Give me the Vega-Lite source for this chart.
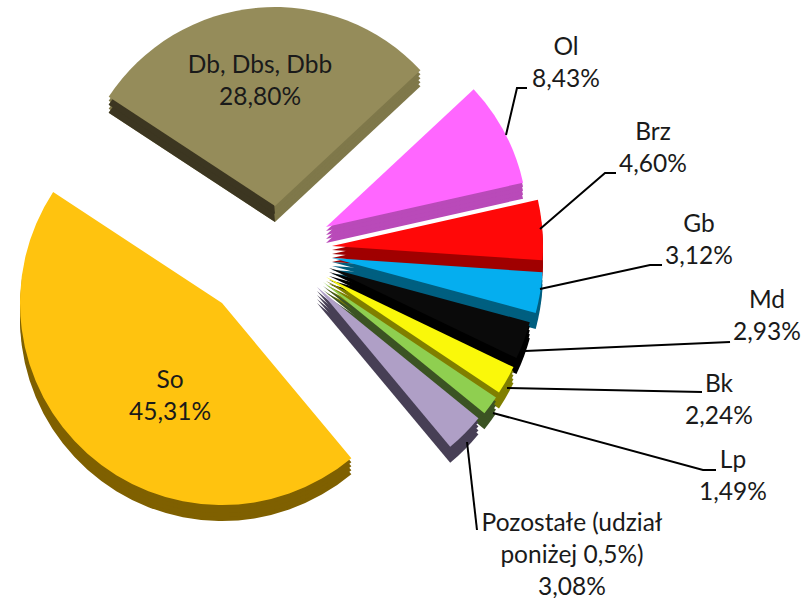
{"$schema":"https://vega.github.io/schema/vega-lite/v6.json","width":803,"height":598,"padding":0,"autosize":{"type":"none"},"background":"white","view":{"stroke":null},
"datasets":{
"shares":[
{"name":"Ol","value":8.43,"rank":1,"label":"Ol\n8,43%"},
{"name":"Brz","value":4.60,"rank":2,"label":"Brz\n4,60%"},
{"name":"Gb","value":3.12,"rank":3,"label":"Gb\n3,12%"},
{"name":"Md","value":2.93,"rank":4,"label":"Md\n2,93%"},
{"name":"Bk","value":2.24,"rank":5,"label":"Bk\n2,24%"},
{"name":"Lp","value":1.49,"rank":6,"label":"Lp\n1,49%"},
{"name":"Pozostałe","value":3.08,"rank":7,"label":"Pozostałe (udział\nponiżej 0,5%)\n3,08%"},
{"name":"So","value":45.31,"rank":8,"label":"So\n45,31%"},
{"name":"Db","value":28.80,"rank":9,"label":"Db, Dbs, Dbb\n28,80%"}],
"leaders":[
{"leader":"Ol","pt":1},{"leader":"Ol","pt":2},{"leader":"Ol","pt":3},
{"leader":"Brz","pt":4},{"leader":"Brz","pt":5},{"leader":"Brz","pt":6},
{"leader":"Gb","pt":7},{"leader":"Gb","pt":8},{"leader":"Gb","pt":9},
{"leader":"Md","pt":10},{"leader":"Md","pt":11},
{"leader":"Bk","pt":12},{"leader":"Bk","pt":13},
{"leader":"Lp","pt":14},{"leader":"Lp","pt":15},{"leader":"Lp","pt":16},
{"leader":"Pozostałe","pt":17},{"leader":"Pozostałe","pt":18}]},
"resolve":{"scale":{"x":"independent","y":"independent","color":"independent"}},
"layer":[
{"data":{"name":"shares"},
"transform":[{"stack":"value","sort":[{"field":"rank"}],"as":["v0","v1"]}],
"encoding":{
"x":{"field":"rank","type":"quantitative","axis":null,"scale":{"domain":[1,2,3,4,5,6,7,8,9],"range":[326,332,332,329,326,323,317,222,275],"nice":false,"zero":false}},
"y":{"field":"rank","type":"quantitative","axis":null,"scale":{"domain":[1,2,3,4,5,6,7,8,9],"range":[227,246,258,268,277,282,287,303,206],"nice":false,"zero":false}},
"theta":{"field":"v0","type":"quantitative","scale":{"domain":[0,100],"range":[0.82,7.103]}},"theta2":{"field":"v1"},
"radius":{"field":"rank","type":"quantitative","stack":null,"scale":{"domain":[1,2,3,4,5,6,7,8,9],"range":[202,211,211,208,208,208,208,202,199],"nice":false,"zero":false}},
"radius2":{"value":0},
"color":{"field":"name","type":"nominal","legend":null,"scale":{"domain":["Ol","Brz","Gb","Md","Bk","Lp","Pozostałe","So","Db"],"range":["#B94AB9","#A00000","#005F80","#000000","#807F00","#3B5323","#473F55","#7F6000","#7F784A"]}}},
"layer":[
{"mark":{"type":"arc","yOffset":16}},
{"mark":{"type":"arc","yOffset":12}},
{"mark":{"type":"arc","yOffset":8}},
{"mark":{"type":"arc","yOffset":4}}]},
{"data":{"name":"shares"},
"transform":[{"stack":"value","sort":[{"field":"rank"}],"as":["v0","v1"]},{"filter":"datum.rank==9"},{"calculate":"(datum.v0+datum.v1)/2","as":"vmid"}],
"encoding":{
"x":{"field":"rank","type":"quantitative","axis":null,"scale":{"domain":[1,2,3,4,5,6,7,8,9],"range":[326,332,332,329,326,323,317,222,275],"nice":false,"zero":false}},
"y":{"field":"rank","type":"quantitative","axis":null,"scale":{"domain":[1,2,3,4,5,6,7,8,9],"range":[227,246,258,268,277,282,287,303,206],"nice":false,"zero":false}},
"theta":{"field":"v0","type":"quantitative","scale":{"domain":[0,100],"range":[0.82,7.103]}},"theta2":{"field":"vmid"},
"radius":{"field":"rank","type":"quantitative","stack":null,"scale":{"domain":[1,2,3,4,5,6,7,8,9],"range":[202,211,211,208,208,208,208,202,199],"nice":false,"zero":false}},
"radius2":{"value":0}},
"layer":[
{"mark":{"type":"arc","yOffset":16,"color":"#3C3621"}},
{"mark":{"type":"arc","yOffset":8,"color":"#3C3621"}}]},
{"data":{"name":"shares"},
"transform":[{"stack":"value","sort":[{"field":"rank"}],"as":["v0","v1"]}],
"mark":{"type":"arc"},
"encoding":{
"x":{"field":"rank","type":"quantitative","axis":null,"scale":{"domain":[1,2,3,4,5,6,7,8,9],"range":[326,332,332,329,326,323,317,222,275],"nice":false,"zero":false}},
"y":{"field":"rank","type":"quantitative","axis":null,"scale":{"domain":[1,2,3,4,5,6,7,8,9],"range":[227,246,258,268,277,282,287,303,206],"nice":false,"zero":false}},
"theta":{"field":"v0","type":"quantitative","scale":{"domain":[0,100],"range":[0.82,7.103]}},"theta2":{"field":"v1"},
"radius":{"field":"rank","type":"quantitative","stack":null,"scale":{"domain":[1,2,3,4,5,6,7,8,9],"range":[202,211,211,208,208,208,208,202,199],"nice":false,"zero":false}},
"radius2":{"value":0},
"color":{"field":"name","type":"nominal","legend":null,"scale":{"domain":["Ol","Brz","Gb","Md","Bk","Lp","Pozostałe","So","Db"],"range":["#FF66FF","#FF0808","#05AEEF","#0A0A0A","#FAF80A","#8FCF50","#AF9FC6","#FFC30F","#958C5A"]}}}},
{"data":{"name":"leaders"},
"mark":{"type":"line","color":"#000000","strokeWidth":2},
"encoding":{
"x":{"field":"pt","type":"quantitative","axis":null,"scale":{"domain":[1,2,3,4,5,6,7,8,9,10,11,12,13,14,15,16,17,18],"range":[506,517,527,540,605,616,540,650,662,525,730,507,702,493,703,716,467,477],"nice":false,"zero":false}},
"y":{"field":"pt","type":"quantitative","axis":null,"scale":{"domain":[1,2,3,4,5,6,7,8,9,10,11,12,13,14,15,16,17,18],"range":[135,88,88,229,173,173,289,265,265,351,342,388,392,413,470,470,442,530],"nice":false,"zero":false}},
"detail":{"field":"leader"},"order":{"field":"pt"}}},
{"data":{"name":"shares"},
"mark":{"type":"text","font":"Lato","fontSize":24.5,"lineBreak":"\n","lineHeight":32,"align":"center","baseline":"alphabetic","color":"#1A1A1A"},
"encoding":{
"x":{"field":"rank","type":"quantitative","axis":null,"scale":{"domain":[1,2,3,4,5,6,7,8,9],"range":[566,653,699,767,719,733,572,170,260],"nice":false,"zero":false}},
"y":{"field":"rank","type":"quantitative","axis":null,"scale":{"domain":[1,2,3,4,5,6,7,8,9],"range":[55,140,232,308,392,468,531,388,73],"nice":false,"zero":false}},
"text":{"field":"label"}}}
]}
